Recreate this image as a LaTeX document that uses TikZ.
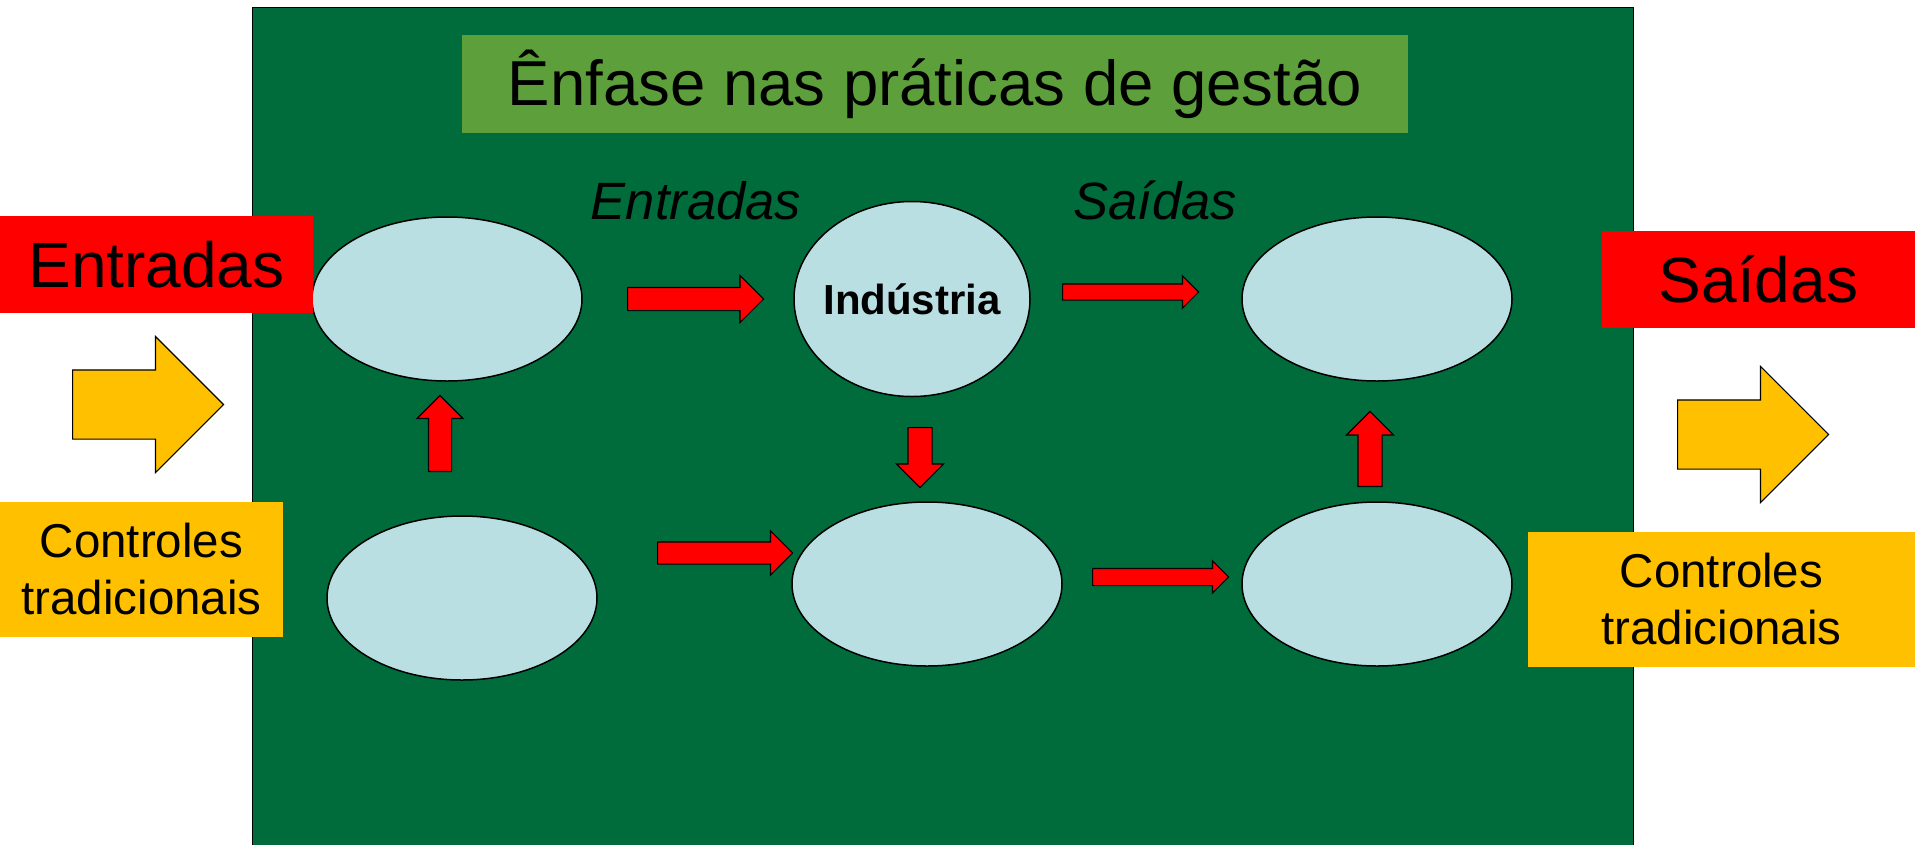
\documentclass[tikz,border=0pt]{standalone}
\usepackage{fontspec}
\setmainfont{Liberation Sans}
\usetikzlibrary{shapes.geometric,shapes.arrows}
\definecolor{fundo}{HTML}{006C3B}
\definecolor{faixa}{HTML}{5C9F3B}
\definecolor{azul}{HTML}{BADFE3}
\definecolor{amarelo}{HTML}{FFC000}

\begin{document}
\begin{tikzpicture}[x=1pt,y=-1pt,
    e/.style={ellipse,draw,line width=1.5pt,fill=azul,inner sep=0pt,minimum width=270pt,minimum height=164pt},
    s/.style n args={3}{single arrow,draw,line width=1.2pt,fill=red,anchor=tail,inner xsep=0pt,inner ysep=#1,single arrow head extend=#2,minimum height=#3},
    cx/.style={inner sep=0pt,align=center}]
    \useasboundingbox (0,0) rectangle (1915,844);
    \draw[fill=fundo,line width=1pt] (252,7) rectangle (1633,860);
    \node[cx,fill=faixa,minimum width=946pt,minimum height=98pt,font=\fontsize{63.5}{76}\selectfont] (tit) at (935,84) {Ênfase nas práticas de gestão};
    \node[anchor=base,inner sep=0pt,font=\fontsize{52.5}{63}\selectfont\itshape] (ite) at (696,219) {Entradas};
    \node[anchor=base,inner sep=0pt,font=\fontsize{52.5}{63}\selectfont\itshape] (its) at (1155,219) {Saídas};
    % elipses
    \node[e] (e1) at (447,299) {};
    \node[e,minimum width=236pt,minimum height=195pt] (e2) at (912,299) {};
    \node[inner sep=0pt,font=\fontsize{42}{50}\selectfont\bfseries] (ind) at (e2) {Indústria};
    \node[e] (e3) at (1377,299) {};
    \node[e] (e4) at (462,598) {};
    \node[e] (e5) at (927,584) {};
    \node[e] (e6) at (1377,584) {};
    % setas vermelhas
    \node[s={11pt}{12pt}{136pt}] (s1) at (627,299) {};
    \node[s={7.5pt}{8pt}{136pt}] (s2) at (1062,292) {};
    \node[s={11.5pt}{11.5pt}{60pt},rotate=-90] (s3) at (920,427) {};
    \node[s={10.5pt}{11pt}{135pt}] (s4) at (657,553) {};
    \node[s={8pt}{7.5pt}{136pt}] (s5) at (1092,577) {};
    \node[s={11pt}{11.5pt}{76pt},rotate=90] (s6) at (440,472) {};
    \node[s={11.5pt}{11.5pt}{75pt},rotate=90] (s7) at (1370,487) {};
    % lados
    \node[cx,fill=red,minimum width=313pt,minimum height=97pt,font=\fontsize{64}{76}\selectfont] (ent) at (156.5,264.5) {Entradas};
    \node[cx,fill=red,minimum width=313pt,minimum height=97pt,font=\fontsize{64}{76}\selectfont] (sai) at (1758.5,279.5) {Saídas};
    \node[s={34pt}{33.5pt}{151pt},fill=amarelo] (y1) at (72,404.5) {};
    \node[s={34pt}{33.5pt}{151pt},fill=amarelo] (y2) at (1677,434.5) {};
    \node[cx,fill=amarelo,minimum width=283pt,minimum height=135pt,font=\fontsize{47.5}{57}\selectfont] (c1) at (141.5,569.5) {Controles\\tradicionais};
    \node[cx,fill=amarelo,minimum width=387pt,minimum height=135pt,font=\fontsize{47.5}{57}\selectfont] (c2) at (1721.5,599.5) {Controles\\tradicionais};
\end{tikzpicture}
\end{document}
